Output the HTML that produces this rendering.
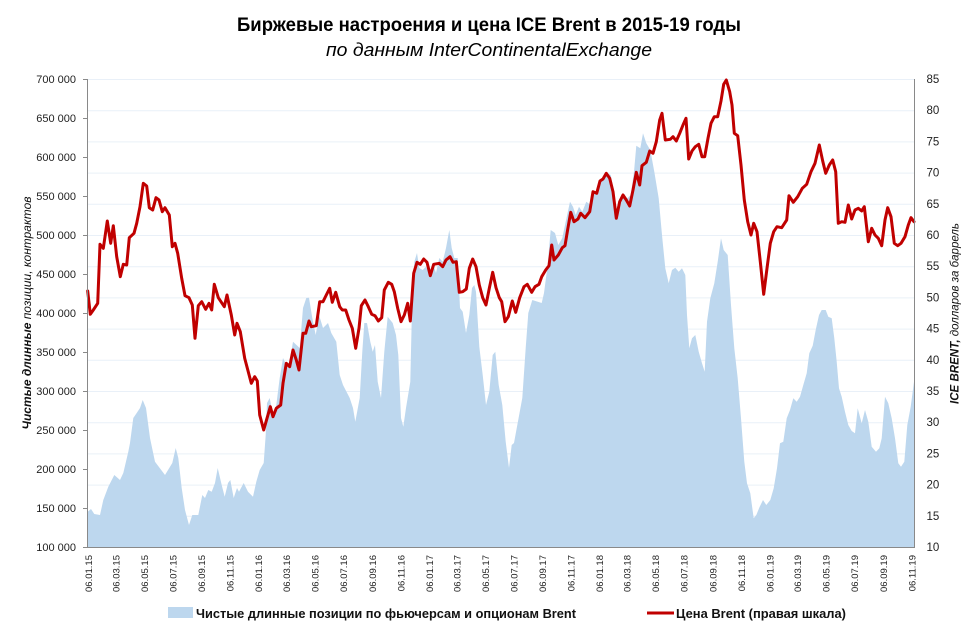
<!DOCTYPE html>
<html><head><meta charset="utf-8"><style>
html,body{margin:0;padding:0;background:#fff;}
svg{display:block;font-family:"Liberation Sans","DejaVu Sans",sans-serif;}
</style></head><body>
<svg width="966" height="631" viewBox="0 0 966 631" xmlns="http://www.w3.org/2000/svg">
<rect width="966" height="631" fill="#fff"/>
<text x="489" y="31" text-anchor="middle" font-size="19" font-weight="bold" fill="#000" textLength="504" lengthAdjust="spacingAndGlyphs">Биржевые настроения и цена ICE Brent в 2015-19 годы</text>
<text x="489" y="56" text-anchor="middle" font-size="18" font-style="italic" fill="#000" textLength="326" lengthAdjust="spacingAndGlyphs">по данным InterContinentalExchange</text>
<g stroke="#e9f0f8" stroke-width="1">
<line x1="88" y1="79.5" x2="914" y2="79.5"/><line x1="88" y1="110.7" x2="914" y2="110.7"/><line x1="88" y1="141.9" x2="914" y2="141.9"/><line x1="88" y1="173.1" x2="914" y2="173.1"/><line x1="88" y1="204.3" x2="914" y2="204.3"/><line x1="88" y1="235.5" x2="914" y2="235.5"/><line x1="88" y1="266.7" x2="914" y2="266.7"/><line x1="88" y1="297.9" x2="914" y2="297.9"/><line x1="88" y1="329.1" x2="914" y2="329.1"/><line x1="88" y1="360.3" x2="914" y2="360.3"/><line x1="88" y1="391.5" x2="914" y2="391.5"/><line x1="88" y1="422.7" x2="914" y2="422.7"/><line x1="88" y1="453.9" x2="914" y2="453.9"/><line x1="88" y1="485.1" x2="914" y2="485.1"/><line x1="88" y1="516.3" x2="914" y2="516.3"/>
</g>
<path fill="#bdd7ee" d="M87.7,547 L87.7,511.7 91,509 94.3,514 100,515 103.3,500 108.3,486.7 114.3,475 120,480 123.3,473 128.3,451.7 130,443 133.3,418 136.7,413 140,408 142.7,400 146,408 150,438 155,461.7 165,475 172.3,463 175.7,448 178.3,458 181.7,488 185,510 189,525 192.3,515 198.3,515 202.3,495 205,498 208.3,490 211.7,491.7 215,483 217.7,468 221.7,485 224.7,496.7 228,483 230.3,480 233.7,498 237,488 239,491.7 243.7,483 248,491.7 253,496.7 256.3,481.7 259.7,470 263.7,463 265.7,435 267,403 269.7,398 273,415 276.3,405 279.7,378 283,358 286.3,365 289.7,361.7 293,341.7 299.7,348 303,308 306.3,298 309,297.7 312.3,318 315.7,335 319,315 323,328 328,323 331.3,333 336.3,341.7 339.7,375 343,385 349.7,398 353,408 355.3,421.7 359.7,398 362.3,351.7 364.3,323 367,323 370.3,341.7 372.7,351.7 375,345 377.7,381.7 381,398 384.3,351.7 387.7,316.7 392.7,323 396,335 398.3,355 401,418 403.3,426.7 406,408 410.3,381.7 412,308 414.3,261.7 417,253 419.3,268 422.7,270 426,266.7 429.3,273 432.7,263 436,273 439.3,258 442.7,261.7 446,248 449.3,230 451.7,248 454.3,258 457.7,258 460,308 462.7,311.7 466,333 469.3,315 472,288 474.3,285 476,291.7 479.3,346.7 482.7,375 486,405 489.3,391.7 492.7,355 495.3,351.7 498.7,385 502.3,405 505.7,441.7 509,468 511.7,445 514,443 517.3,425 522.3,398 525.7,348 528.3,313 532.3,300 541.7,303 544,293 547.3,268 550.7,230 555,233 558.3,245 562.3,238 565.7,221.7 570,201.7 573,206.7 575.7,215 579,206.7 582.3,211.7 586.3,201.7 590.7,205 593,193 597.3,191.7 600.7,181.7 605.7,172.3 610.7,175 614,191.7 616.3,215 619.7,208.3 623,195 627.3,198.3 630.7,195 634,171.7 636.3,145.7 640.3,148.3 643,133.3 646.3,143.3 650.3,150 654.3,171.7 658.7,198.3 662,235 665.3,268.3 668.7,283.3 672,270 675.3,267.7 678.7,271.7 682,268.3 685.3,275 687,315 689.3,348.3 692,338.3 695.3,335 698.7,351.7 702,363.3 704.7,371.7 707,321.7 710.3,298.3 714.3,283.3 717.7,261.7 721,238.3 723.7,250 727.7,255 731,305 734.3,348.3 737.7,378.3 741,418.3 744.3,461.7 747,483.3 750.3,493.3 753.7,518.3 756.3,515 759.7,506.7 763,500 766.3,505 770.3,500 773.7,488.3 777,468.3 780,443.3 783.3,441.7 786.7,418.3 790,410 793.3,398.3 796.7,401.7 800,396.7 803.3,385 806.7,373.3 809.3,353.3 812.7,345.7 815.7,330 819,315 821.7,310 825.7,310 828.3,316.7 831.7,318.3 834.3,338.3 836.7,361.7 839,388.3 841.7,396.7 845,411.7 848.3,425 851.7,431 855,433.3 857.7,408.3 861.7,423.3 865,410 868.3,421.7 871.7,446.7 876,451.7 879.3,448.3 881.7,438.3 885,396.7 888.3,403.3 891.7,418.3 895,438.3 898.3,463.3 901,466.7 904.3,461.7 907.3,425 910.7,406.7 914,381.7 L914,547 Z"/>
<polyline fill="none" stroke="#c00000" stroke-width="3" stroke-linejoin="round" stroke-linecap="round" points="87.7,291 90.3,314.3 93.3,310 97.7,303.3 100,244.3 103.3,248.3 107.3,221 110.7,243.3 113.3,225.7 116.7,256.7 120.3,276.7 123.3,264.3 126.7,265 129.3,237.7 134,233.3 136.7,223.3 140,206.7 143.3,183.3 146.7,186 149.3,207.7 152.7,210 156,197.7 159,200 162.3,211.7 165,207.7 169.3,215 172.3,246.7 175,243.3 177.7,253.3 181.7,278.3 185,295.7 189,297.7 192.3,305 195,338.3 198.3,305.7 201.7,301.7 205.7,309.3 209,303.3 211.7,310 214.3,284.3 218.3,297.7 224.3,306.7 227,295 231.3,315 234.7,335 237,323.3 240.3,331.7 244.7,358.3 251.3,383.3 254.7,376.7 257.3,381 259.7,415 263.7,430 267,418.3 270.3,406.7 273,416.7 276.3,408.3 280.7,405 283,383.3 286.3,363.3 289.7,366.7 293,350 296.3,360 299,370 303,333.3 305.7,333.3 309,321 311.3,326.7 316.3,325.7 319.7,301.7 323,301.7 326.3,295 329.7,288.3 332.3,302.3 335.7,292.3 339.7,306.7 342.3,310 345.7,310 349,320 352.3,328.3 355.7,348.3 359,328.3 361.3,305.7 365,300 368.3,306.7 371.7,314.3 375,315.7 378.3,321 381.7,317.7 384.3,290 388.3,282.3 391.7,284.3 394.3,291.7 397.7,308.3 401,321.7 404.3,315 407.7,303.3 410.3,321 413.7,273.3 417,262.3 420.3,264.3 423.7,259 427,262.3 430.3,275.7 433.7,264.3 439.3,263.3 442.7,266.7 446,260 450,256.7 453,262.3 456.3,261.7 459.3,292.3 462.7,291.7 466.3,289 469.3,268.3 472.7,259 476,266.7 479.3,285 482.7,297.7 486,305 489.3,288.3 492.7,272.3 496,287.7 499.3,297.7 501.7,301.7 505,321.7 508.3,316.7 512.3,301 515.7,312.3 519.7,297.7 524,286.7 527.3,284.3 531.7,292.3 535,286.7 539,284.3 541.7,276.7 545.7,270 549,265.7 551.7,245 554,260 558.3,255 562.3,247.7 565,245.7 567.3,231.7 570.7,212.3 574,221.7 578,219 580.7,213.3 585,217.7 589.7,211.7 593,191.7 596.7,193.3 600,181 603,179 606.3,173.3 609.7,178.3 613,191.7 616.3,218.3 619.7,201.7 623,195 626.3,200 629.7,206 633,190 636.3,172.3 639.7,185 642,165.7 646.3,162.3 649.7,151 653,153.3 656.3,141.7 659.7,120 662,113.3 665.3,140 670.3,139.3 673,136.7 676.3,141 679.7,133.3 683,125 686,118.3 688.7,159 692,151 695.3,146.7 698.7,144.3 702,156.7 704.7,156.7 708,138.3 711,123.3 714.3,116.7 717.7,116.7 721,101 723.7,84.3 726.3,80 729.7,91.7 732,105 734.3,133.3 737.7,135.7 741,165 744.3,200 747.7,221.7 751,235 753.7,223.3 757,231.7 760.3,261.7 763.7,294.3 767,268.3 770.3,243.3 773.7,231.7 777,226.7 781.7,227.7 786.7,220 789,195.7 793.3,202.3 797.7,196.7 802.3,188.3 806.7,184.3 811,171.7 815,163.3 819.3,145 822.7,161 825.7,173.3 829.3,165 832.7,160 835.7,171.7 838.3,223.3 841.7,221.7 845,222.3 848.3,205 851.7,219 855,210 858.3,208.3 861.7,211 864.3,206.7 868.3,241.7 871.7,228.3 875,235 878.3,238.3 881.7,245.7 885,220 887.7,207.7 891,216.7 894.3,243.3 897.7,245.7 901,243.3 905,236.7 908.3,225 911,217.7 914,221.7"/>
<g stroke="#898989" stroke-width="1" fill="none">
<line x1="87.5" y1="79" x2="87.5" y2="547.5"/>
<line x1="914.5" y1="79" x2="914.5" y2="547.5"/>
<line x1="87" y1="547.5" x2="915" y2="547.5"/>
<path d="M83,79.5H87 M83,118.5H87 M83,157.5H87 M83,196.5H87 M83,235.5H87 M83,274.5H87 M83,313.5H87 M83,352.5H87 M83,391.5H87 M83,430.5H87 M83,469.5H87 M83,508.5H87 M83,547.5H87"/>
</g>
<g font-size="11" fill="#222" text-anchor="end">
<text x="76" y="83">700 000</text><text x="76" y="122">650 000</text><text x="76" y="161">600 000</text><text x="76" y="200">550 000</text><text x="76" y="239">500 000</text><text x="76" y="278">450 000</text><text x="76" y="317">400 000</text><text x="76" y="356">350 000</text><text x="76" y="395">300 000</text><text x="76" y="434">250 000</text><text x="76" y="473">200 000</text><text x="76" y="512">150 000</text><text x="76" y="551">100 000</text>
</g>
<g font-size="11.5" fill="#222" text-anchor="start">
<text x="926.5" y="83">85</text><text x="926.5" y="114.2">80</text><text x="926.5" y="145.4">75</text><text x="926.5" y="176.6">70</text><text x="926.5" y="207.8">65</text><text x="926.5" y="239">60</text><text x="926.5" y="270.2">55</text><text x="926.5" y="301.4">50</text><text x="926.5" y="332.6">45</text><text x="926.5" y="363.8">40</text><text x="926.5" y="395">35</text><text x="926.5" y="426.2">30</text><text x="926.5" y="457.4">25</text><text x="926.5" y="488.6">20</text><text x="926.5" y="519.8">15</text><text x="926.5" y="551">10</text>
</g>
<g font-size="9.5" fill="#222" text-anchor="end">
<text transform="translate(91.8,555) rotate(-90)">06.01.15</text>
<text transform="translate(119.3,555) rotate(-90)">06.03.15</text>
<text transform="translate(147.8,555) rotate(-90)">06.05.15</text>
<text transform="translate(176.3,555) rotate(-90)">06.07.15</text>
<text transform="translate(205.2,555) rotate(-90)">06.09.15</text>
<text transform="translate(233.6,555) rotate(-90)">06.11.15</text>
<text transform="translate(262.1,555) rotate(-90)">06.01.16</text>
<text transform="translate(290.1,555) rotate(-90)">06.03.16</text>
<text transform="translate(318.6,555) rotate(-90)">06.05.16</text>
<text transform="translate(347,555) rotate(-90)">06.07.16</text>
<text transform="translate(375.9,555) rotate(-90)">06.09.16</text>
<text transform="translate(404.4,555) rotate(-90)">06.11.16</text>
<text transform="translate(432.9,555) rotate(-90)">06.01.17</text>
<text transform="translate(460.4,555) rotate(-90)">06.03.17</text>
<text transform="translate(488.9,555) rotate(-90)">06.05.17</text>
<text transform="translate(517.3,555) rotate(-90)">06.07.17</text>
<text transform="translate(546.2,555) rotate(-90)">06.09.17</text>
<text transform="translate(574.7,555) rotate(-90)">06.11.17</text>
<text transform="translate(603.2,555) rotate(-90)">06.01.18</text>
<text transform="translate(630.7,555) rotate(-90)">06.03.18</text>
<text transform="translate(659.1,555) rotate(-90)">06.05.18</text>
<text transform="translate(687.6,555) rotate(-90)">06.07.18</text>
<text transform="translate(716.5,555) rotate(-90)">06.09.18</text>
<text transform="translate(745,555) rotate(-90)">06.11.18</text>
<text transform="translate(773.5,555) rotate(-90)">06.01.19</text>
<text transform="translate(801,555) rotate(-90)">06.03.19</text>
<text transform="translate(829.5,555) rotate(-90)">06.05.19</text>
<text transform="translate(857.9,555) rotate(-90)">06.07.19</text>
<text transform="translate(886.8,555) rotate(-90)">06.09.19</text>
<text transform="translate(915.3,555) rotate(-90)">06.11.19</text>
</g>
<text transform="translate(31,313) rotate(-90)" text-anchor="middle" font-size="12" font-style="italic" fill="#111" textLength="233" lengthAdjust="spacingAndGlyphs"><tspan font-weight="bold">Чистые длинные</tspan> позиции, контрактов</text>
<text transform="translate(958.5,313.5) rotate(-90)" text-anchor="middle" font-size="12" font-style="italic" fill="#111" textLength="181" lengthAdjust="spacingAndGlyphs"><tspan font-weight="bold">ICE BRENT,</tspan> долларов за баррель</text>
<rect x="168" y="607" width="25" height="11" fill="#bdd7ee"/>
<text x="196" y="618" font-size="13" font-weight="bold" fill="#111" textLength="380" lengthAdjust="spacingAndGlyphs">Чистые длинные позиции по фьючерсам и опционам Brent</text>
<line x1="647" y1="613" x2="674" y2="613" stroke="#c00000" stroke-width="3"/>
<text x="676" y="618" font-size="13" font-weight="bold" fill="#111" textLength="170" lengthAdjust="spacingAndGlyphs">Цена Brent (правая шкала)</text>
</svg>
</body></html>
